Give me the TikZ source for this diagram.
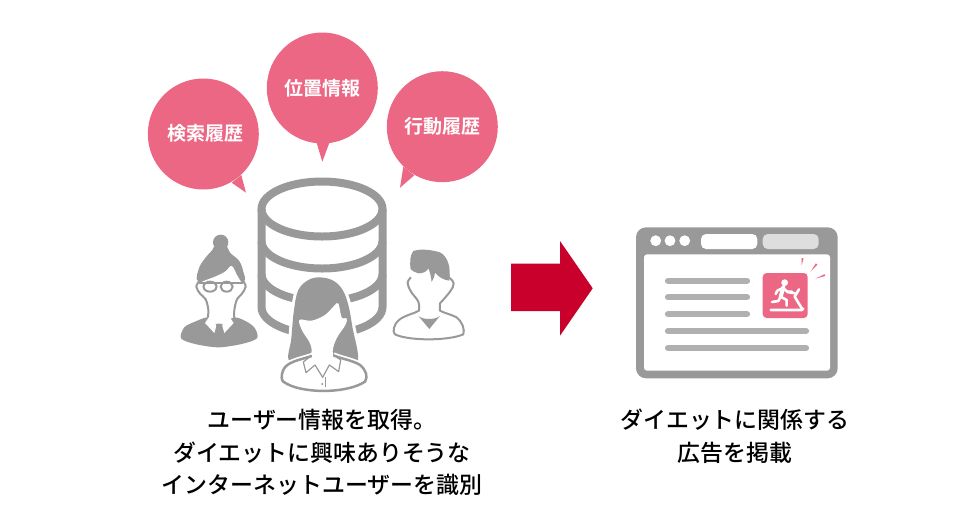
\documentclass[tikz,border=0pt]{standalone}
\usepackage{fontspec}
\newfontfamily\jp{Noto Sans CJK JP Medium}
\newfontfamily\jpb{Noto Sans CJK JP Bold}
\definecolor{pinkc}{HTML}{EC6784}
\definecolor{grayc}{HTML}{999999}
\definecolor{barc}{HTML}{B0B0B0}
\definecolor{redc}{HTML}{C9002B}
\tikzset{
  bubbletext/.style={text=white,font=\jpb\fontsize{19}{22}\selectfont,inner sep=0pt},
  caption/.style={text=black,font=\jp\fontsize{22.9}{32.5}\selectfont,align=center,inner sep=0pt},
  dbline/.style={draw=grayc,line width=8pt},
  bar/.style={draw=barc,line width=6.2pt,line cap=round},
  trace/.style={x=.3333pt,y=-.3333pt},
  thin outline/.style={draw=grayc,line width=2.5pt,line join=round,fill=white},
  halo/.style={preaction={draw=white,line width=6pt}},
  runner/.style={draw=white,line width=2.6pt,line cap=round,line join=round}
}
\begin{document}
\begin{tikzpicture}[x=1pt,y=-1pt]
\useasboundingbox (0,0) rectangle (980,523);
% speech bubbles
\fill[pinkc] (203.3,134) circle[radius=55.5pt];
\fill[pinkc] (231.7,182.7) -- (246,192.7) -- (241.3,175) -- cycle;
\fill[pinkc] (322.3,88) circle[radius=55.5pt];
\fill[pinkc] (316.7,143) -- (322.3,161.7) -- (329.3,143) -- cycle;
\fill[pinkc] (442.3,126.7) circle[radius=55.5pt];
\fill[pinkc] (403.3,166.7) -- (400,187.7) -- (414.3,175.3) -- cycle;
\node[bubbletext] (t1) at (205,133) {検索履歴};
\node[bubbletext] (t2) at (322,88) {位置情報};
\node[bubbletext] (t3) at (442,126.5) {行動履歴};
% database
\draw[dbline] (322,181.5) .. controls (355.4,181.5) and (382.5,193.8) .. (382.5,209)
  .. controls (382.5,224.2) and (355.4,236.5) .. (322,236.5)
  .. controls (288.6,236.5) and (261.5,224.2) .. (261.5,209)
  .. controls (261.5,193.8) and (288.6,181.5) .. (322,181.5) -- cycle;
\foreach \yy in {241,274}{
  \draw[dbline] (261.5,\yy) .. controls (261.5,\yy+15.2) and (288.6,\yy+27.5) .. (322,\yy+27.5)
    .. controls (355.4,\yy+27.5) and (382.5,\yy+15.2) .. (382.5,\yy);
}
\draw[dbline] (261.5,209) -- (261.5,307) .. controls (261.5,322.2) and (288.6,334.5) .. (322,334.5)
    .. controls (355.4,334.5) and (382.5,322.2) .. (382.5,307) -- (382.5,209);
% woman in centre
\begin{scope}[shift={(270,270)},trace]
  \fill[grayc,halo] plot[smooth cycle,tension=.6] coordinates {(58,272) (64,205) (72,120) (85,60) (115,30) (150,22) (190,32) (218,60) (235,105) (247,170) (262,275) (190,262) (125,262)};
  \fill[white] plot[smooth cycle,tension=.6] coordinates {(88,150) (125,152) (165,135) (192,108) (205,100) (215,142) (230,145) (226,165) (200,205) (188,245) (195,290) (120,290) (125,240) (115,210) (98,185)};
  \draw[thin outline,preaction={draw=white,line width=6pt}] (125,258) .. controls (90,270) and (50,275) .. (40,300) .. controls (32,320) and (35,330) .. (40,335)
     .. controls (90,372) and (230,372) .. (285,335) .. controls (295,320) and (288,300) .. (270,285) .. controls (250,272) and (220,268) .. (190,256);
  \draw[grayc,line width=1.2pt,line join=round] (125,256) -- (100,276) -- (108,308) -- (135,285) -- (158,322) -- (178,285) -- (206,305) -- (212,270) -- (190,254);
  \draw[grayc,line width=1.2pt] (166,322) -- (166,352);
  \fill[grayc] (157,342) circle[radius=1.1pt];
\end{scope}
% woman with glasses
\begin{scope}[shift={(175,230)},trace]
  \fill[grayc] (137,37) circle[radius=7.7pt];
  \fill[grayc] plot[smooth cycle,tension=.6] coordinates {(70,155) (72,115) (90,85) (112,60) (122,45) (152,45) (165,68) (192,92) (205,125) (205,155) (140,165)};
  \fill[white] plot[smooth cycle,tension=.6] coordinates {(82,155) (120,140) (150,125) (170,108) (186,135) (198,155) (210,170) (198,192) (184,208) (176,240) (172,266) (104,266) (100,240) (92,208) (76,192) (66,170)};
  \draw[grayc,line width=2pt,line join=round] plot[smooth,tension=.6] coordinates {(75,150) (64,170) (76,192) (92,208) (100,240) (98,265)};
  \draw[grayc,line width=2pt,line join=round] plot[smooth,tension=.6] coordinates {(178,265) (178,240) (186,208) (200,192) (212,170) (203,150)};
  \fill[grayc] plot[smooth cycle,tension=.5] coordinates {(18,325) (28,292) (60,275) (100,262) (135,282) (178,262) (215,275) (240,295) (246,325) (200,342) (130,352) (60,342)};
  \fill[white] (103,260) -- (90,279) -- (118,309) -- (126,281) -- (133,285) -- (140,281) -- (148,309) -- (176,279) -- (163,260) -- (133,283) -- cycle;
  \fill[grayc] (122,282) -- (143,282) -- (138,296) -- (143,312) -- (132,322) -- (122,312) -- (127,296) -- cycle;
  \draw[grayc,line width=2pt,fill=white] (105,170) ellipse[x radius=6.5pt,y radius=5pt];
  \draw[grayc,line width=2pt,fill=white] (155,170) ellipse[x radius=6pt,y radius=5pt];
  \draw[grayc,line width=2pt] (72,160) -- (205,160);
\end{scope}
% man
\begin{scope}[shift={(385,240)},trace]
  \draw[thin outline,line width=2pt] plot[smooth,tension=.6] coordinates {(78,112) (68,128) (78,155) (100,185) (102,212)} .. controls (85,222) and (60,225) .. (42,240) .. controls (25,255) and (22,275) .. (30,283) .. controls (70,303) and (190,303) .. (235,283) .. controls (240,270) and (232,245) .. (215,232) .. controls (195,222) and (180,220) .. (165,212) -- plot[smooth,tension=.6] coordinates {(165,190) (195,155) (206,130) (192,112)};
  \fill[grayc] (85,33) .. controls (110,25) and (140,30) .. (165,37) .. controls (190,50) and (198,85) .. (193,122) .. controls (175,120) and (160,110) .. (150,98) .. controls (148,110) and (145,118) .. (140,126) .. controls (138,110) and (135,95) .. (130,85) .. controls (125,95) and (115,100) .. (100,100) .. controls (90,98) and (80,92) .. (76,85) .. controls (75,65) and (75,45) .. (85,33) -- cycle;
  \fill[grayc] (100,228) .. controls (115,240) and (150,240) .. (165,228) -- (133,267) -- cycle;
\end{scope}
% arrow
\fill[redc] (511,263.7) -- (560,263.7) -- (560,241) -- (592.7,288.3) -- (560,335.7) -- (560,311) -- (511,311) -- cycle;
% browser
\fill[grayc,rounded corners=10pt] (636,227.3) rectangle (837.7,378.3);
\fill[white,rounded corners=3pt] (644,254.3) rectangle (830,370.7);
\foreach \xx in {655.7,670,684.7}{\fill[white] (\xx,240.7) circle[radius=5.4pt];}
\fill[white,rounded corners=5pt] (701,234) rectangle (757.3,249);
\fill[white!87!black,rounded corners=5pt] (762.7,234) rectangle (818.7,249);
\foreach \yy in {280.7,297.3,314.3}{\draw[bar] (668,\yy) -- (747,\yy);}
\foreach \yy in {331,348}{\draw[bar] (668,\yy) -- (806,\yy);}
\fill[pinkc,rounded corners=4pt] (762.7,273) rectangle (807.7,318);
\fill[pinkc] (801.7,265.3) -- (801.6,258) -- (803.6,258.3) -- cycle;
\fill[pinkc] (810.6,271.6) -- (815.8,263.4) -- (817.4,264.6) -- cycle;
\fill[pinkc] (815.4,278.6) -- (824.6,274.2) -- (825.2,276) -- cycle;
\begin{scope}[shift={(750,250)},trace]
  \fill[white] (104,98) circle[radius=3.4pt];
  \draw[runner,line width=4pt] (100,112) -- (92,140);
  \draw[runner] (100,113) -- (82,122) -- (77,132);
  \draw[runner] (100,115) -- (112,125) -- (126,125);
  \draw[runner] (92,140) -- (110,150) -- (110,167);
  \draw[runner] (92,140) -- (85,153) -- (66,156);
  \draw[runner] (147,118) -- (134,140) -- (156,176);
  \draw[runner] (112,126) -- (136,130);
  \draw[runner] (62,180) -- (155,180) -- (160,176);
\end{scope}
% captions
\node[caption] (c1) at (322,452.5) {ユーザー情報を取得。\\ダイエットに興味ありそうな\\インターネットユーザーを識別};
\node[caption] (c2) at (735,436) {ダイエットに関係する\\広告を掲載};
\end{tikzpicture}
\end{document}
